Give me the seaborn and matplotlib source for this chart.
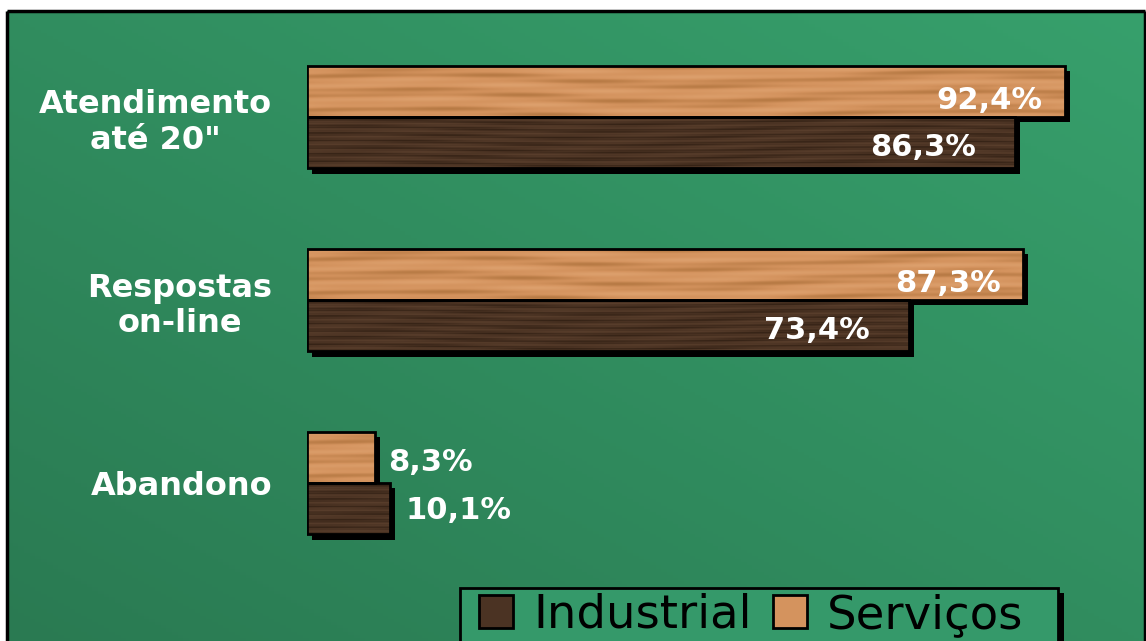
import numpy as np
import pandas as pd
import matplotlib
matplotlib.use("Agg")
import matplotlib.pyplot as plt
import matplotlib.patheffects as pe
from matplotlib.font_manager import FontProperties
from matplotlib.patches import Patch, Rectangle
from matplotlib.colors import to_rgb
import seaborn as sns

# ---- data ----
categories = ['Atendimento\naté 20"', "Respostas\non-line", "Abandono"]
industrial = [86.3, 73.4, 10.1]
servicos = [92.4, 87.3, 8.3]
series_names = ["Serviços", "Industrial"]
legend_order = ["Industrial", "Serviços"]

SERV_COLOR = "#D4935E"
IND_COLOR = "#4B3323"

df = pd.DataFrame({
    "categoria": categories * 2,
    "serie": ["Serviços"] * 3 + ["Industrial"] * 3,
    "valor": servicos + industrial,
})

W, H = 1146, 641
fig = plt.figure(figsize=(W / 100, H / 100), dpi=100, facecolor="white")

# ---- green gradient panel with black frame ----
bg = fig.add_axes([0, 0, 1, 1], zorder=-10)
bg.set_xlim(0, W)
bg.set_ylim(H, 0)
bg.axis("off")
gx, gy = np.meshgrid(np.linspace(0, 1, 200), np.linspace(0, 1, 200))
t = (gx + (1 - gy)) / 2.0
dark = np.array(to_rgb("#2A7A52"))
light = np.array(to_rgb("#37A06C"))
grad = dark[None, None, :] * (1 - t[..., None]) + light[None, None, :] * t[..., None]
bg.imshow(grad, extent=[7, 1145, 641, 11], aspect="auto", origin="upper")
bg.plot([7, 7], [641, 11], color="black", lw=2.5, solid_capstyle="butt")
bg.plot([7, 1145], [11, 11], color="black", lw=2.5, solid_capstyle="butt")
bg.plot([1145, 1145], [11, 641], color="black", lw=2.5, solid_capstyle="butt")

# legend box with drop shadow
bg.add_patch(Rectangle((465, 593), 599, 80, facecolor="black", edgecolor="none", zorder=2))
bg.add_patch(Rectangle((460, 588), 598, 80, facecolor="#35996A", edgecolor="black",
                       lw=2, zorder=3))


def wood(h, w, base, dk, lt, phase, fine):
    yy, xx = np.mgrid[0:h, 0:w].astype(float)
    v = (0.55 * np.sin(yy * fine + 2.2 * np.sin(xx * 0.011 + phase))
         + 0.3 * np.sin(yy * fine * 2.7 + xx * 0.006 + phase * 2)
         + 0.15 * np.sin(xx * 0.045 + yy * 0.25))
    v = np.clip(v, -1, 1)
    b, d, l = (np.array(to_rgb(c)) for c in (base, dk, lt))
    neg = np.clip(-v, 0, 1)[..., None]
    pos = np.clip(v, 0, 1)[..., None]
    img = b + (d - b) * neg * 0.8 + (l - b) * pos * 0.6
    return np.clip(img, 0, 1)


textures = {
    "Serviços": wood(52, 800, SERV_COLOR, "#B0743E", "#E2A876", 0.4, 0.35),
    "Industrial": wood(52, 800, IND_COLOR, "#2F1E12", "#634632", 1.3, 0.9),
}

# label offsets (points): inside-bar labels per series
inside_offset = {"Serviços": (-16, -6.5), "Industrial": (-28, -3.5)}
outside_offset = {"Serviços": (9.5, -3.5), "Industrial": (11, -1.5)}
value_font = FontProperties(family="DejaVu Sans", weight="bold", size=22)

# ---- bars ----
ax = fig.add_axes([307 / W, 1 - 580 / H, (W - 307) / W, 560 / H])
ax.set_facecolor("none")
sns.barplot(data=df, y="categoria", x="valor", hue="serie", hue_order=series_names,
            order=categories, orient="h", width=0.56, palette=[SERV_COLOR, IND_COLOR],
            linewidth=0, legend=False, ax=ax)

values = {"Serviços": servicos, "Industrial": industrial}
for container, name in zip(ax.containers, series_names):
    for bar, val in zip(container, values[name]):
        bar.set_path_effects([pe.SimplePatchShadow(offset=(3.8, -3.8), shadow_rgbFace="black", alpha=1.0),
                              pe.Normal()])
        x0, y0 = bar.get_x(), bar.get_y()
        bw, bh = bar.get_width(), bar.get_height()
        tex = textures[name]
        ncol = max(8, int(tex.shape[1] * bw / 95))
        im = ax.imshow(tex[:, :ncol], extent=[x0, x0 + bw, y0 + bh, y0], aspect="auto",
                       zorder=1.5, interpolation="bilinear")
        im.set_clip_path(bar)
        ax.add_patch(Rectangle((x0, y0), bw, bh, facecolor="none", edgecolor="black",
                               lw=2, zorder=1.6))
        label = f"{val:.1f}%".replace(".", ",")
        cy = y0 + bh / 2
        if val > 50:
            ax.annotate(label, (x0 + bw, cy), xytext=inside_offset[name],
                        textcoords="offset points", ha="right", va="center",
                        color="white", fontproperties=value_font, zorder=3)
        else:
            ax.annotate(label, (x0 + bw, cy), xytext=outside_offset[name],
                        textcoords="offset points", ha="left", va="center",
                        color="white", fontproperties=value_font, zorder=3)

ax.set_xlim(0, 102.3)
ax.set_ylim(2.530, -0.530)
ax.set_xlabel("")
ax.set_ylabel("")
ax.set_xticks([])
for s in ax.spines.values():
    s.set_visible(False)
ax.tick_params(axis="y", length=0, pad=25)
ax.set_yticks(range(len(categories)))
ax.set_yticklabels(categories)
for lbl in ax.get_yticklabels():
    lbl.set_color("white")
    lbl.set_fontsize(23)
    lbl.set_fontweight("bold")
    lbl.set_family("DejaVu Sans")
    lbl.set_multialignment("center")
    lbl.set_linespacing(1.2)

# ---- legend (entries only; box drawn above) ----
handles = [Patch(facecolor=IND_COLOR, edgecolor="black", lw=2),
           Patch(facecolor=SERV_COLOR, edgecolor="black", lw=2)]
leg = fig.legend(handles, legend_order, loc="upper left",
                 bbox_to_anchor=(479 / W, 1 - 593 / H), ncol=2, frameon=False,
                 prop={"family": "DejaVu Sans", "size": 33.5}, handlelength=0.74,
                 handleheight=0.7, handletextpad=0.43, columnspacing=0.45,
                 borderpad=0, borderaxespad=0)
leg.set_zorder(5)

fig.savefig("out.png", dpi=100, facecolor="white")
